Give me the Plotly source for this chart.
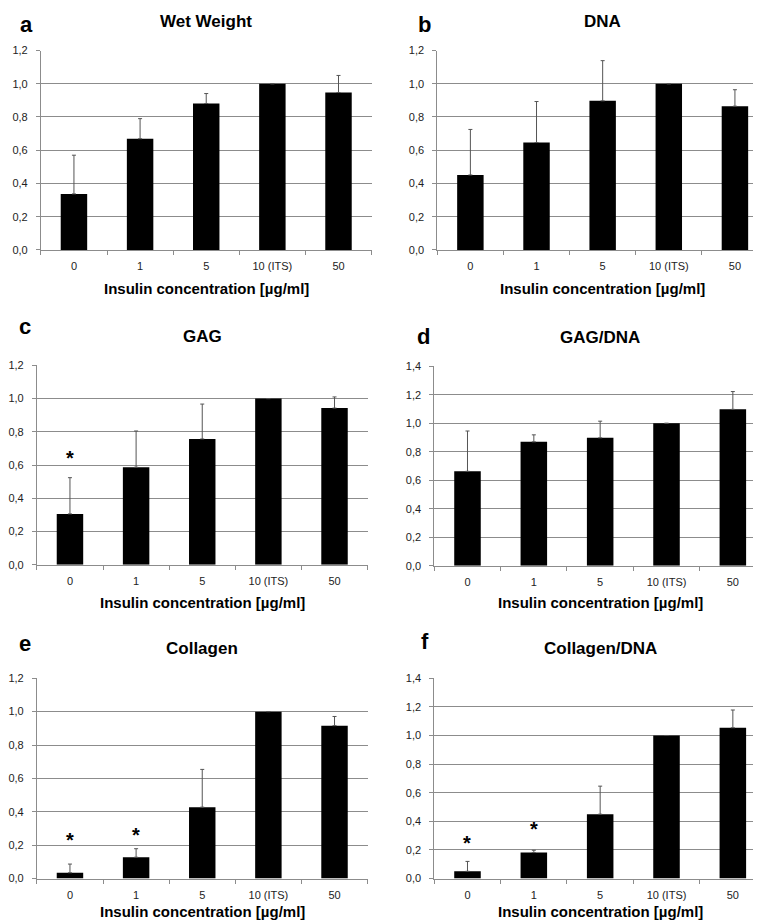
import plotly.graph_objects as go

categories = ["0", "1", "5", "10 (ITS)", "50"]

wet_weight = [0.337, 0.669, 0.881, 1.0, 0.947]
wet_weight_err = [0.233, 0.121, 0.060, 0.0, 0.103]

dna = [0.451, 0.646, 0.897, 1.0, 0.865]
dna_err = [0.274, 0.247, 0.242, 0.0, 0.099]

gag = [0.306, 0.587, 0.757, 1.0, 0.943]
gag_err = [0.218, 0.218, 0.210, 0.0, 0.067]

gag_dna = [0.663, 0.870, 0.898, 1.0, 1.098]
gag_dna_err = [0.283, 0.049, 0.117, 0.0, 0.125]

collagen = [0.035, 0.128, 0.428, 1.0, 0.916]
collagen_err = [0.052, 0.051, 0.226, 0.0, 0.055]

collagen_dna = [0.051, 0.182, 0.450, 1.0, 1.054]
collagen_dna_err = [0.069, 0.016, 0.196, 0.0, 0.124]

titles = ["Wet Weight", "DNA", "GAG", "GAG/DNA", "Collagen", "Collagen/DNA"]
letters = ["a", "b", "c", "d", "e", "f"]
y_max = [1.2, 1.2, 1.2, 1.4, 1.2, 1.4]

# significance asterisks: (panel index, category, y value)
stars = [(2, "0", 0.64), (4, "0", 0.234), (4, "1", 0.26), (5, "0", 0.251), (5, "1", 0.346)]

values = [wet_weight, dna, gag, gag_dna, collagen, collagen_dna]
errors = [wet_weight_err, dna_err, gag_err, gag_dna_err, collagen_err, collagen_dna_err]

W, H = 761, 922
# pixel boxes: (x0, x1, ytop, ybottom)
boxes = [
    (30, 362, 37, 239),
    (428, 760, 37, 239),
    (26, 358, 356, 558),
    (425, 758, 357, 559),
    (26, 358, 673, 876),
    (425, 758, 673, 876),
]
title_y = [8, 8, 327, 328, 643, 643]
letter_pos = [(16, 11), (415, 11), (14, 317), (414, 327), (14, 638), (416, 636)]
xtitle_y = [278, 278, 596, 596, 909, 909]

FONT = "Liberation Sans, Arial, sans-serif"
fig = go.Figure()
annotations = []

for i in range(6):
    sfx = "" if i == 0 else str(i + 1)
    xa = "x" + sfx
    ya = "y" + sfx
    fig.add_trace(go.Bar(
        x=categories, y=values[i], xaxis=xa, yaxis=ya,
        marker=dict(color="black", line=dict(width=0)),
        error_y=dict(type="data", array=errors[i], arrayminus=[0] * 5, symmetric=False,
                     color="#555555", thickness=1, width=2),
        showlegend=False,
    ))
    x0, x1, yt, yb = boxes[i]
    fig.layout["xaxis" + sfx] = dict(
        domain=[x0 / W, x1 / W], anchor=ya, type="category",
        showline=True, linecolor="#8c8c8c", linewidth=1,
        ticks="outside", tickson="boundaries", ticklen=4, tickcolor="#8c8c8c",
        ticklabelstandoff=6,
        tickfont=dict(family=FONT, size=11, color="#222222"),
        showgrid=False, fixedrange=True,
    )
    fig.layout["yaxis" + sfx] = dict(
        domain=[1 - yb / H, 1 - yt / H], anchor=xa,
        range=[0, y_max[i]], dtick=0.2, tickformat=".1f",
        showline=True, linecolor="#8c8c8c", linewidth=1,
        ticks="outside", ticklen=4, tickcolor="#8c8c8c",
        ticklabelstandoff=6,
        tickfont=dict(family=FONT, size=11, color="#222222"),
        showgrid=True, gridcolor="#8c8c8c", gridwidth=1, zeroline=False,
        fixedrange=True,
    )
    cx = (x0 + x1) / 2 / W
    annotations.append(dict(text="<b>" + titles[i] + "</b>", x=cx, y=1 - title_y[i] / H,
                            xref="paper", yref="paper", showarrow=False,
                            xanchor="center", yanchor="middle",
                            font=dict(family=FONT, size=17, color="black")))
    annotations.append(dict(text="<b>" + letters[i] + "</b>", x=letter_pos[i][0] / W,
                            y=1 - letter_pos[i][1] / H,
                            xref="paper", yref="paper", showarrow=False,
                            xanchor="center", yanchor="middle",
                            font=dict(family=FONT, size=22, color="black")))
    annotations.append(dict(text="<b>Insulin concentration [µg/ml]</b>", x=cx,
                            y=1 - xtitle_y[i] / H,
                            xref="paper", yref="paper", showarrow=False,
                            xanchor="center", yanchor="middle",
                            font=dict(family=FONT, size=15, color="black")))

for p, cat, yv in stars:
    sfx = "" if p == 0 else str(p + 1)
    annotations.append(dict(text="<b>*</b>", x=cat, y=yv, xref="x" + sfx, yref="y" + sfx,
                            showarrow=False, xanchor="center", yanchor="middle",
                            font=dict(family=FONT, size=20, color="black")))

fig.update_layout(
    width=W, height=H, margin=dict(l=0, r=0, t=0, b=0),
    paper_bgcolor="white", plot_bgcolor="white",
    bargap=0.6, separators=",.",
    annotations=annotations,
    font=dict(family=FONT),
)

fig.write_html("out.html")
